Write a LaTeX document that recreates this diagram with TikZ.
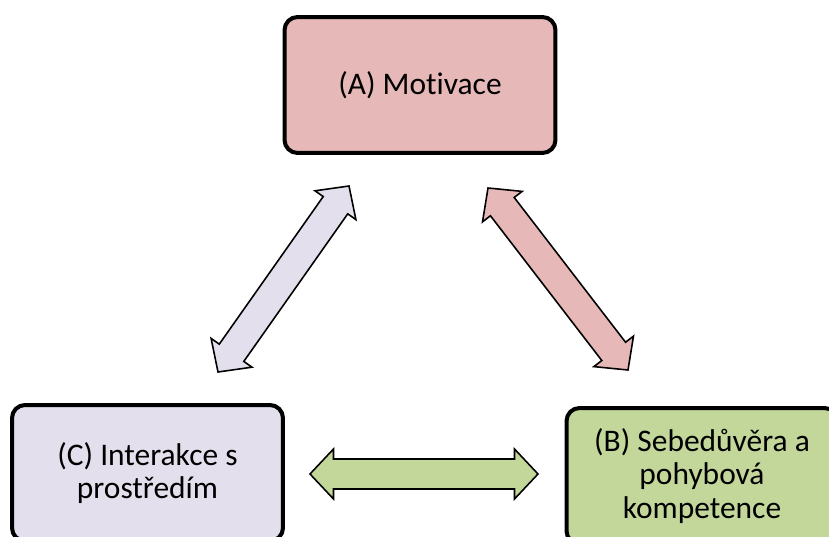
\documentclass[tikz,border=0pt]{standalone}
\usepackage{fontspec}
\setmainfont{Carlito}[Ligatures = NoCommon]
\usetikzlibrary{calc}
\definecolor{motivColor}{RGB}{230,184,183}
\definecolor{interColor}{RGB}{228,223,236}
\definecolor{kompColor}{RGB}{196,215,155}
\tikzstyle{pixelGrid} = [x = 0.02cm, y = -0.02cm]
\tikzstyle{boxStyle} = [draw = black, line width = 0.08cm, rounded corners = .26cm, minimum width = 5.42cm, minimum height = 2.72cm, inner sep = 0pt, align = center, font = \fontsize{17.9}{19.3}\selectfont]
\tikzstyle{arrowStyle} = [draw = black, line width = 0.9pt, line join = miter]
\newcommand{\headLen}{.47cm}
\newcommand{\headWidth}{.5cm}
\newcommand{\shaftWidth}{.3cm}
\newcommand{\blockArrow}[3]{\filldraw [arrowStyle, fill = #1] (#2)
  -- ($(#2)!\headLen!(#3)!\headWidth!90:(#3)$)
  -- ($(#2)!\headLen!(#3)!\shaftWidth!90:(#3)$)
  -- ($(#3)!\headLen!(#2)!\shaftWidth!-90:(#2)$)
  -- ($(#3)!\headLen!(#2)!\headWidth!-90:(#2)$)
  -- (#3)
  -- ($(#3)!\headLen!(#2)!\headWidth!90:(#2)$)
  -- ($(#3)!\headLen!(#2)!\shaftWidth!90:(#2)$)
  -- ($(#2)!\headLen!(#3)!\shaftWidth!-90:(#3)$)
  -- ($(#2)!\headLen!(#3)!\headWidth!-90:(#3)$)
  -- cycle;}
\begin{document}
\begin{tikzpicture}[pixelGrid]
        \useasboundingbox (0,0) rectangle (829,537);
        \clip (0,0) rectangle (829,537);

        \node [boxStyle, fill = motivColor] (motivace) at (420,85) {(A) Motivace};
        \node [boxStyle, fill = interColor] (interakce) at (147.5,473) {(C) Interakce s\\prostředím};
        \node [boxStyle, fill = kompColor] (kompetence) at (702,476) {(B) Sebedůvěra a\\pohybová\\kompetence};

        \coordinate (leftTop) at (349,186);
        \coordinate (leftBottom) at (218,372);
        \coordinate (rightTop) at (488,188);
        \coordinate (rightBottom) at (628,370);
        \coordinate (bottomLeft) at (310,474);
        \coordinate (bottomRight) at (538,474);

        \blockArrow{interColor}{leftBottom}{leftTop}
        \blockArrow{motivColor}{rightTop}{rightBottom}
        \blockArrow{kompColor}{bottomLeft}{bottomRight}
      \end{tikzpicture}
\end{document}
